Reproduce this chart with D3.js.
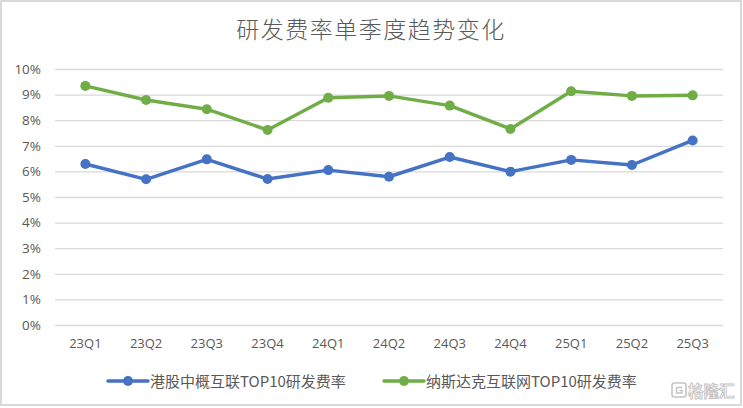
<!DOCTYPE html>
<html>
<head>
<meta charset="utf-8">
<script src="https://cdn.jsdelivr.net/npm/d3@7"></script>
<style>
  html, body { margin: 0; padding: 0; background: #fff; }
  svg { display: block; }
</style>
</head>
<body>
<svg id="chart" width="743" height="408"></svg>
<script>
const title = "研发费率单季度趋势变化";
const categories = ["23Q1","23Q2","23Q3","23Q4","24Q1","24Q2","24Q3","24Q4","25Q1","25Q2","25Q3"];
const seriesNames = ["港股中概互联TOP10研发费率", "纳斯达克互联网TOP10研发费率"];
const hkValues = [6.29, 5.69, 6.47, 5.70, 6.05, 5.79, 6.56, 5.99, 6.45, 6.25, 7.21];
const nasdaqValues = [9.34, 8.79, 8.43, 7.62, 8.88, 8.95, 8.57, 7.66, 9.13, 8.95, 8.97];
const yTicks = [0,1,2,3,4,5,6,7,8,9,10];
const colors = ["#4472C4", "#70AD47"];

const svg = d3.select("#chart");
const plot = { left: 55, right: 723, top: 69, bottom: 325 };

// border
svg.append("rect").attr("x", 1).attr("y", 1).attr("width", 740).attr("height", 404)
  .attr("fill", "#fff").attr("stroke", "#d9d9d9").attr("stroke-width", 2);

// title
svg.append("text").attr("x", 371).attr("y", 38).attr("text-anchor", "middle")
  .attr("font-family", "'Noto Sans CJK SC', sans-serif").attr("font-size", 23)
  .attr("font-weight", 300).attr("letter-spacing", 1.5)
  .attr("fill", "#595959").text(title);

const x = d3.scaleBand().domain(categories).range([plot.left, plot.right]);
const y = d3.scaleLinear().domain([0, 10]).range([plot.bottom, plot.top]);

const yAxis = d3.axisLeft(y).tickValues(yTicks).tickFormat(d => d + "%")
  .tickSize(-(plot.right - plot.left)).tickPadding(14);
const gy = svg.append("g").attr("transform", `translate(${plot.left},0)`).call(yAxis);
gy.select(".domain").remove();
gy.selectAll(".tick line").attr("stroke", "#d9d9d9").attr("stroke-width", 1.3);
gy.selectAll(".tick text").attr("fill", "#595959").attr("font-size", 13.5)
  .attr("font-family", "'Open Sans', 'Noto Sans', sans-serif");

const xAxis = d3.axisBottom(x).tickSize(0).tickPadding(14);
const gx = svg.append("g").attr("transform", `translate(0,${plot.bottom})`).call(xAxis);
gx.select(".domain").remove();
gx.selectAll(".tick text").attr("fill", "#595959").attr("font-size", 13)
  .attr("font-family", "'Open Sans', 'Noto Sans', sans-serif");

const cx = d => x(d) + x.bandwidth() / 2;
const line = d3.line().x((d, i) => cx(categories[i])).y(d => y(d));

[hkValues, nasdaqValues].forEach((vals, si) => {
  svg.append("path").datum(vals).attr("d", line).attr("fill", "none")
    .attr("stroke", colors[si]).attr("stroke-width", 3.5).attr("stroke-linejoin", "round")
    .attr("stroke-linecap", "round");
  svg.append("g").selectAll("circle").data(vals).join("circle")
    .attr("cx", (d, i) => cx(categories[i])).attr("cy", d => y(d)).attr("r", 5)
    .attr("fill", colors[si]);
});

// legend
const legendItems = [{ x: 108, name: seriesNames[0], c: colors[0] }, { x: 384, name: seriesNames[1], c: colors[1] }];
const ly = 381;
legendItems.forEach(it => {
  const g = svg.append("g");
  g.append("line").attr("x1", it.x).attr("x2", it.x + 40).attr("y1", ly).attr("y2", ly)
    .attr("stroke", it.c).attr("stroke-width", 3.5).attr("stroke-linecap", "round");
  g.append("circle").attr("cx", it.x + 20).attr("cy", ly).attr("r", 5).attr("fill", it.c);
  g.append("text").attr("x", it.x + 42).attr("y", ly + 5.5)
    .attr("font-family", "'Noto Sans CJK SC', sans-serif").attr("font-size", 15)
    .attr("fill", "#595959").text(it.name);
});

// watermark
const wm = svg.append("g");
wm.append("rect").attr("x", 672).attr("y", 383).attr("width", 14).attr("height", 14).attr("rx", 2.5)
  .attr("fill", "none").attr("stroke", "#c4c4c4").attr("stroke-width", 1.6);
wm.append("path").attr("d", "M682,387.5 L676.5,387.5 L676.5,393 L682,393 L682,390.5 L679.5,390.5")
  .attr("fill", "none").attr("stroke", "#c4c4c4").attr("stroke-width", 1.5);
wm.append("text").attr("x", 688).attr("y", 396.5).attr("font-size", 15.5)
  .attr("font-family", "'Noto Sans CJK SC', sans-serif").attr("font-weight", 700)
  .attr("fill", "#fff").attr("stroke", "#c4c4c4").attr("stroke-width", 0.9).text("格隆汇");
</script>
</body>
</html>
